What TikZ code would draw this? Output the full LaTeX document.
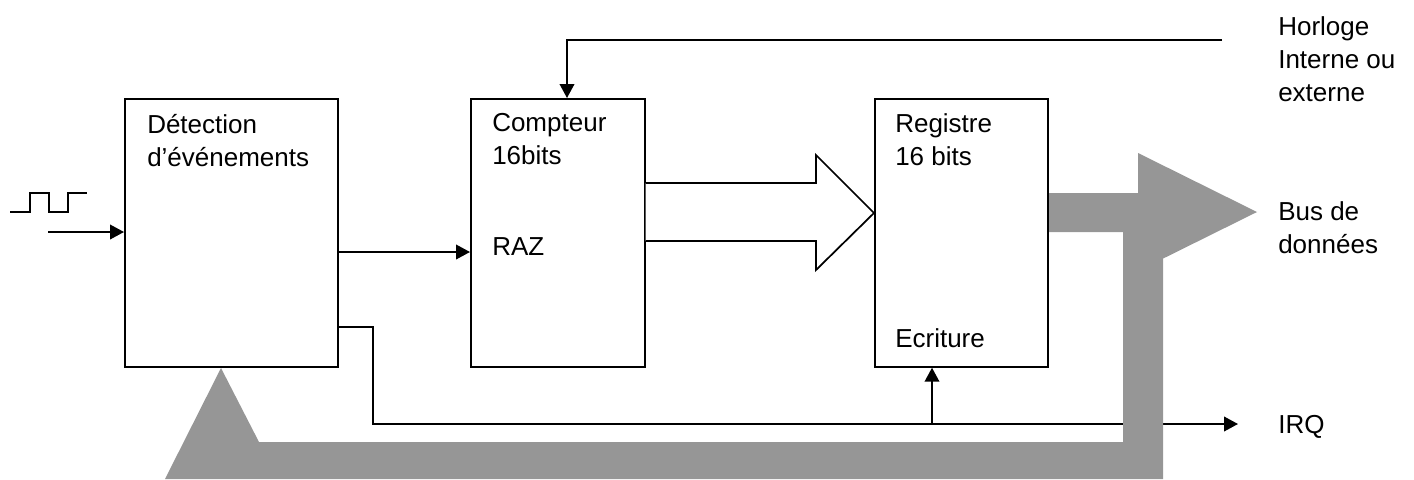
\documentclass[tikz,border=0pt]{standalone}
\usepackage{fontspec}
\setmainfont{Liberation Sans}
\usetikzlibrary{arrows.meta}
\definecolor{busgray}{RGB}{150,150,150}
\pgfdeclarelayer{lower}
\pgfdeclarelayer{middle}
\pgfsetlayers{lower,middle,main}
\begin{document}
\begin{tikzpicture}[x=0.75pt,y=-0.75pt,
  every node/.style={font=\fontsize{19.5pt}{24.5pt}\selectfont},
  blk/.style={draw,line width=1.3pt,rectangle,anchor=north west,inner sep=0pt},
  lbl/.style={anchor=base west,inner sep=0pt,align=left},
  wire/.style={line width=1.3pt},
  arr/.style={wire,-{Triangle[length=10.5pt,width=11pt]}},
  bus/.style={fill=busgray,draw=none}]
\useasboundingbox (0,0) rectangle (1414,479);

% blocks
\node[blk,minimum width=159.75pt,minimum height=201pt] (det) at (124,98) {};
\node[blk,minimum width=130.5pt,minimum height=201pt] (cpt) at (470,98) {};
\node[blk,minimum width=129.75pt,minimum height=201pt] (reg) at (874,98) {};

% labels (anchor = baseline of last line)
\node[lbl] (tdet) at (147,166) {Détection\\d’événements};
\node[lbl] (tcpt) at (492,164) {Compteur\\16bits};
\node[lbl] (traz) at (492,255) {RAZ};
\node[lbl] (treg) at (895,165) {Registre\\16 bits};
\node[lbl] (tecr) at (895,347) {Ecriture};
\node[lbl] (thor) at (1278,101) {Horloge\\Interne ou\\externe};
\node[lbl] (tbus) at (1278,253) {Bus de\\données};
\node[lbl] (tirq) at (1278,433) {IRQ};

% input waveform
\draw[wire,line width=1.1pt] (10,212) -- (30,212) -- (30,193) -- (49,193) -- (49,212) -- (68,212) -- (68,193) -- (87,193);
\coordinate (in) at (48,232);
\draw[arr] (in) -- (det.west |- in);

% detection -> RAZ
\coordinate (raz) at (0,252);
\draw[arr] (det.east |- raz) -- (cpt.west |- raz);

% clock
\coordinate (clk) at (1222,40);
\coordinate (clkdown) at (567,40);
\draw[arr] (clk) -- (clkdown) -- (cpt.north -| clkdown);

% hollow data arrow
\draw[wire,fill=white,line join=miter] (cpt.east |- 0,183) -- (816,183) -- (816,155) -- (reg.west |- 0,213) -- (816,270) -- (816,241) -- (cpt.east |- 0,241);

% IRQ line
\coordinate (irqout) at (1238,424);
\coordinate (irqc1) at (373,327);
\coordinate (irqc2) at (373,424);
\coordinate (wr) at (932,424);
\begin{pgfonlayer}{lower}
\draw[arr] (det.east |- irqc1) -- (irqc1) -- (irqc2) -- (irqout);
\end{pgfonlayer}
\draw[arr] (wr) -- (reg.south -| wr);

% grey bus
\begin{pgfonlayer}{middle}
\fill[bus] (reg.east |- 0,193) -- (1138,193) -- (1138,153) -- (1257,212) -- (1163,258.6)
  -- (1163,479) -- (165,479) -- (221,368) -- (259,442) -- (1123,442) -- (1123,232) -- (reg.east |- 0,232) -- cycle;
\end{pgfonlayer}
\end{tikzpicture}
\end{document}
